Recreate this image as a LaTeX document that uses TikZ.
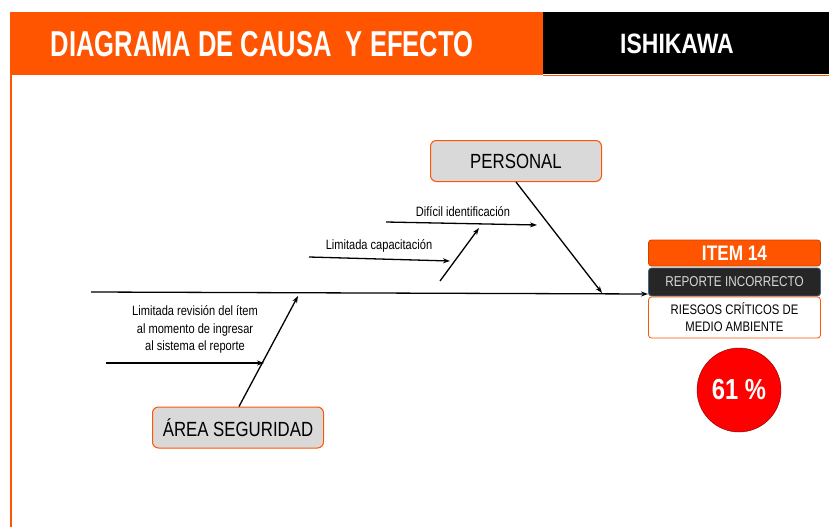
\documentclass[tikz,border=0pt]{standalone}
\usepackage{fontspec}
\setmainfont{Liberation Sans}
\newfontfamily\narrowfont[FakeStretch=0.82]{Liberation Sans}
\newfontfamily\titlefont[FakeStretch=0.71]{Liberation Sans}
\usetikzlibrary{arrows.meta, positioning}

\definecolor{ishiorange}{HTML}{FF5400}
\definecolor{boxgray}{HTML}{D9D9D9}
\definecolor{darkbox}{HTML}{262626}
\definecolor{darkedge}{HTML}{4A6680}

\begin{document}
\begin{tikzpicture}[x=1pt, y=-1pt,
  causebox/.style={draw=ishiorange, fill=boxgray, rounded corners=6pt, line width=1pt,
    minimum width=171pt, minimum height=41pt, font=\narrowfont\fontsize{20.5}{22}\selectfont},
  causetext/.style={font=\narrowfont\fontsize{13.5}{17.5}\selectfont, inner sep=1pt, align=center},
  effectbox/.style={rounded corners=3pt, line width=0.8pt, minimum width=172pt, inner sep=0pt},
  bone/.style={-{Stealth[length=7pt,width=5pt]}, line width=1.3pt}
]
  \useasboundingbox (0,0) rectangle (829,527);

  % Header bands
  \fill[ishiorange] (10,12) rectangle (543,75);
  \fill[black] (543,12) rectangle (829,74);
  \draw[ishiorange, line width=1pt] (543,75) -- (829,75);
  \draw[ishiorange, line width=2pt] (11,75) -- (11,527);
  \node[text=white, font=\titlefont\bfseries\fontsize{36}{38}\selectfont] (title) at (262,44) {DIAGRAMA DE CAUSA\ \ Y EFECTO};
  \node[text=white, font=\narrowfont\bfseries\fontsize{28}{30}\selectfont] (method) at (677,44) {ISHIKAWA};

  % Effect (head of the fish)
  \node[effectbox, fill=ishiorange, draw=ishiorange!80!black, minimum height=26pt, text=white,
    font=\narrowfont\bfseries\fontsize{21}{23}\selectfont] (item) at (734.5,253) {ITEM 14};
  \node[effectbox, fill=darkbox, draw=darkedge, minimum height=28pt, text=boxgray,
    font=\narrowfont\fontsize{14.3}{16}\selectfont] (report) at (734.5,282) {REPORTE INCORRECTO};
  \node[effectbox, fill=white, draw=ishiorange, minimum height=41pt, align=center,
    font=\narrowfont\fontsize{13.8}{17}\selectfont] (risk) at (734.5,317.5) {RIESGOS CRÍTICOS DE\\MEDIO AMBIENTE};
  \node[circle, fill=red, draw=red!50!black, minimum size=84pt, inner sep=0pt, text=white,
    font=\narrowfont\bfseries\fontsize{29}{31}\selectfont] (pct) at (739,390) {61 \%};

  % Spine
  \coordinate (tail) at (91,292);
  \coordinate (head) at (648,294);
  \draw[bone] (tail) -- (head);

  % Main causes
  \node[causebox] (personal) at (516,161) {PERSONAL};
  \node[causebox] (area) at (238,427.5) {ÁREA SEGURIDAD};
  \coordinate (personalhit) at (602,293);
  \coordinate (areahit) at (298,296);
  \draw[bone] (personal.south) -- (personalhit);
  \draw[bone] ([xshift=1pt]area.north) -- (areahit);

  % Sub-causes of PERSONAL
  \node[causetext] (dificil) at (463,212) {Difícil identificación};
  \coordinate (d1) at (386,222);
  \coordinate (d2) at (537,225);
  \draw[bone] (d1) -- (d2);
  \node[causetext] (capac) at (379,246) {Limitada capacitación};
  \coordinate (c1) at (309,257);
  \coordinate (c2) at (450,261);
  \draw[bone] (c1) -- (c2);
  \coordinate (s1) at (440,281);
  \coordinate (s2) at (479,228);
  \draw[bone] (s1) -- (s2);

  % Sub-cause of AREA SEGURIDAD
  \node[causetext] (revision) at (195,329.5) {Limitada revisión del ítem\\al momento de ingresar\\al sistema el reporte};
  \coordinate (r1) at (106,363);
  \coordinate (r2) at (264,363);
  \draw[bone] (r1) -- (r2);
\end{tikzpicture}
\end{document}
